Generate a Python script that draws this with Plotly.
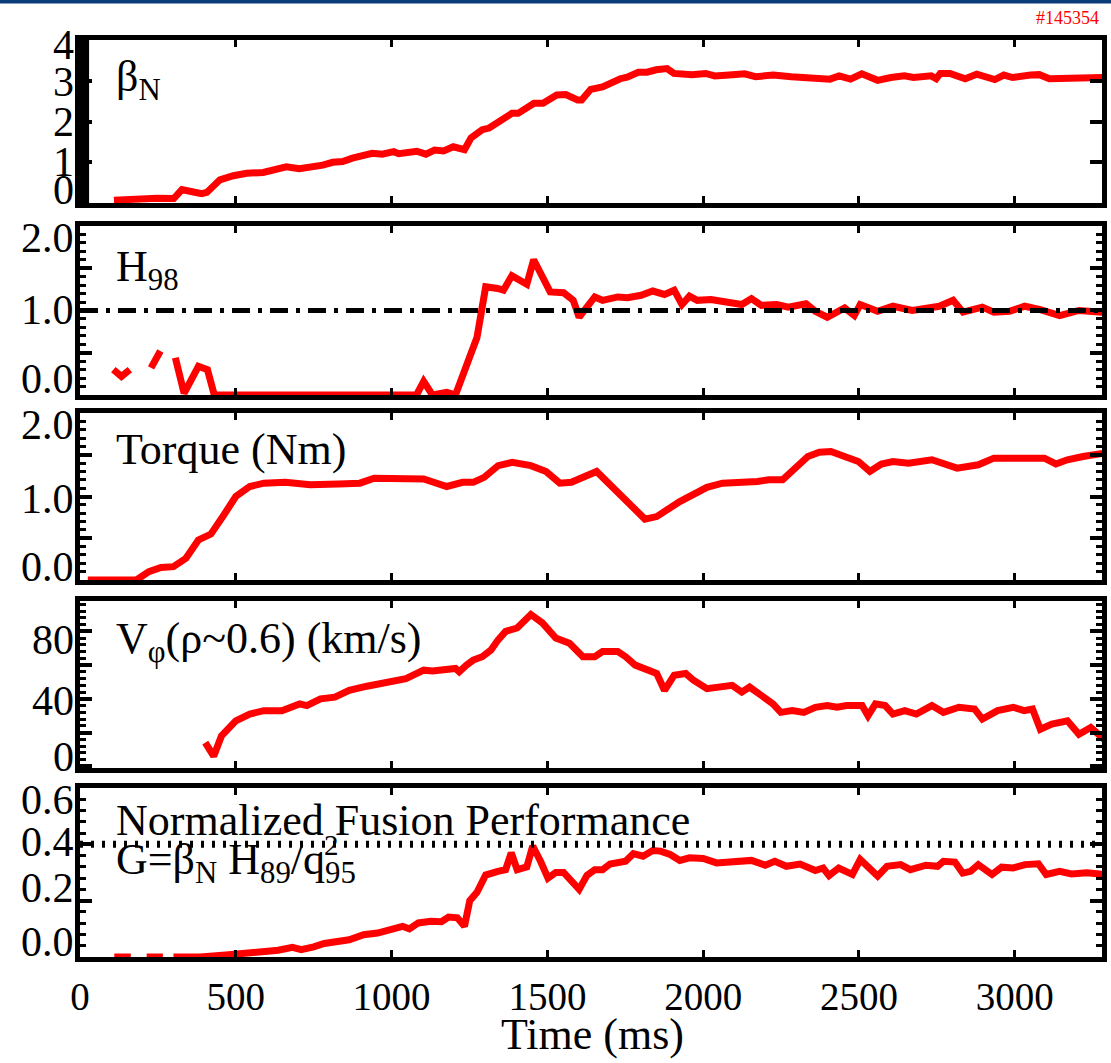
import plotly.graph_objects as go

# ---------------- data (time in ms) ----------------
t_betan = [109, 173, 248, 301, 327, 364, 391, 407, 449, 492, 535, 588, 619, 662, 704, 747, 779, 811, 843,
           874, 906, 938, 970, 1007, 1023, 1081, 1110, 1138, 1167, 1198, 1234, 1255, 1291, 1313, 1386, 1406,
           1457, 1486, 1530, 1559, 1597, 1610, 1639, 1677, 1734, 1756, 1792, 1820, 1849, 1884, 1906, 1964,
           2008, 2037, 2094, 2133, 2168, 2225, 2283, 2327, 2407, 2436, 2473, 2509, 2560, 2602, 2646, 2675,
           2732, 2748, 2761, 2792, 2841, 2878, 2936, 2965, 2993, 3051, 3079, 3111, 3169, 3226, 3284]
betan = [0.07, 0.10, 0.12, 0.11, 0.33, 0.27, 0.23, 0.26, 0.57, 0.67, 0.73, 0.75, 0.81, 0.89, 0.84, 0.88, 0.93,
         1.00, 1.02, 1.10, 1.14, 1.22, 1.20, 1.26, 1.21, 1.27, 1.20, 1.30, 1.28, 1.38, 1.31, 1.60, 1.80, 1.84,
         2.20, 2.20, 2.45, 2.45, 2.65, 2.66, 2.53, 2.53, 2.79, 2.85, 3.05, 3.09, 3.21, 3.21, 3.27, 3.30, 3.18,
         3.15, 3.18, 3.12, 3.15, 3.17, 3.10, 3.14, 3.10, 3.08, 3.04, 3.12, 3.04, 3.17, 3.01, 3.08, 3.12, 3.08,
         3.12, 3.05, 3.18, 3.18, 3.05, 3.16, 3.03, 3.14, 3.08, 3.14, 3.15, 3.05, 3.05, 3.08, 3.08]

# None marks gaps in the H98 record
t_h98 = [107, 133, 160, None, 228, 258, None, 306, 334, 380, 409, 431, 1080, 1103, 1131, 1177, 1205, 1274,
         1302, 1340, 1359, 1386, 1434, 1456, 1509, 1552, 1583, 1602, 1652, 1677, 1726, 1757, 1801, 1838,
         1876, 1907, 1932, 1956, 1981, 2025, 2062, 2124, 2155, 2187, 2236, 2273, 2330, 2360, 2398, 2454,
         2485, 2504, 2560, 2609, 2671, 2721, 2758, 2802, 2834, 2896, 2933, 2983, 3032, 3082, 3144, 3206, 3281]
h98 = [0.30, 0.22, 0.30, None, 0.32, 0.52, None, 0.44, 0.02, 0.34, 0.30, 0.0, 0.0, 0.16, 0.0, 0.03, 0.0, 0.68,
       1.28, 1.26, 1.24, 1.41, 1.31, 1.60, 1.22, 1.21, 1.12, 0.92, 1.16, 1.12, 1.16, 1.15, 1.18, 1.23,
       1.19, 1.24, 1.07, 1.17, 1.12, 1.13, 1.10, 1.07, 1.14, 1.06, 1.07, 1.04, 1.08, 0.99, 0.92, 1.03,
       0.94, 1.07, 0.99, 1.05, 1.00, 1.03, 1.05, 1.12, 0.98, 1.04, 0.98, 0.99, 1.05, 1.01, 0.94, 1.00, 0.98]

t_torque = [25, 181, 221, 260, 300, 340, 380, 420, 460, 500, 545, 590, 659, 739, 830, 898, 944, 1058, 1103,
            1177, 1228, 1262, 1297, 1342, 1387, 1447, 1496, 1540, 1577, 1658, 1733, 1813, 1851, 1925, 2012,
            2062, 2174, 2211, 2255, 2292, 2336, 2373, 2410, 2498, 2535, 2572, 2609, 2659, 2734, 2815, 2883,
            2933, 2995, 3057, 3095, 3132, 3169, 3219, 3287]
torque = [0.0, 0.0, 0.10, 0.15, 0.16, 0.26, 0.48, 0.55, 0.77, 1.00, 1.12, 1.16, 1.17, 1.14, 1.15, 1.16, 1.22,
          1.21, 1.21, 1.12, 1.17, 1.17, 1.23, 1.37, 1.41, 1.37, 1.30, 1.16, 1.17, 1.30, 1.02, 0.73, 0.76,
          0.94, 1.11, 1.16, 1.18, 1.20, 1.20, 1.32, 1.48, 1.53, 1.54, 1.42, 1.30, 1.39, 1.42, 1.40, 1.44,
          1.34, 1.38, 1.46, 1.46, 1.47, 1.46, 1.39, 1.44, 1.48, 1.52]

t_vphi = [402, 429, 454, 500, 545, 590, 648, 705, 728, 772, 818, 864, 921, 978, 1046, 1103, 1131, 1205, 1217,
          1240, 1262, 1291, 1319, 1342, 1366, 1403, 1447, 1484, 1527, 1571, 1614, 1652, 1677, 1726, 1751,
          1782, 1815, 1851, 1876, 1907, 1944, 1969, 2012, 2062, 2093, 2124, 2149, 2187, 2224, 2249, 2286,
          2323, 2360, 2398, 2430, 2460, 2510, 2529, 2553, 2584, 2609, 2647, 2684, 2734, 2771, 2821, 2871,
          2896, 2945, 2995, 3030, 3057, 3082, 3119, 3169, 3206, 3244, 3287]
vphi = [14, 6, 18, 27, 31, 33, 33, 37, 36, 40, 41, 45, 47.5, 50, 52, 57, 56.5, 58, 56,
        60, 63, 65, 69, 75, 80, 82, 90, 85, 76, 73, 65, 65, 68, 68, 65,
        60, 58, 55, 45, 54, 55, 51, 46, 47, 48, 44, 47, 42, 37, 32, 33,
        32, 35, 36, 35, 36, 36, 30, 37, 36, 31, 33, 31, 36, 32, 35, 34,
        28, 33, 35, 33, 34, 22, 25, 27, 19, 23, 16]

t_g = [110, 163, None, 214, 266, None, 300, 386, 477, 568, 636, 682, 710, 750, 784, 864, 910, 955, 1001, 1035,
       1057, 1086, 1126, 1160, 1183, 1211, 1234, 1251, 1274, 1302, 1341, 1366, 1384, 1403, 1434, 1453, 1478,
       1502, 1527, 1552, 1602, 1627, 1652, 1677, 1701, 1751, 1776, 1807, 1838, 1863, 1894, 1925, 1956, 2000,
       2043, 2087, 2155, 2199, 2230, 2267, 2311, 2360, 2385, 2404, 2435, 2479, 2504, 2560, 2590, 2634, 2665,
       2715, 2752, 2771, 2808, 2833, 2858, 2883, 2927, 2958, 2995, 3033, 3076, 3101, 3144, 3182, 3231, 3287]
g_perf = [0.0, 0.0, None, 0.0, 0.0, None, 0.0, 0.0, 0.008, 0.016, 0.024, 0.034, 0.026, 0.036, 0.048, 0.061,
          0.079, 0.085, 0.097, 0.109, 0.100, 0.121, 0.127, 0.125, 0.142, 0.139, 0.109, 0.200, 0.230, 0.291,
          0.304, 0.310, 0.370, 0.310, 0.320, 0.394, 0.340, 0.280, 0.300, 0.300, 0.240, 0.290, 0.310, 0.310,
          0.330, 0.340, 0.367, 0.358, 0.378, 0.376, 0.364, 0.343, 0.352, 0.350, 0.334, 0.338, 0.343, 0.326,
          0.340, 0.322, 0.330, 0.307, 0.316, 0.289, 0.316, 0.293, 0.346, 0.287, 0.322, 0.328, 0.310, 0.326,
          0.322, 0.340, 0.337, 0.298, 0.304, 0.328, 0.293, 0.319, 0.316, 0.328, 0.331, 0.293, 0.304, 0.295,
          0.299, 0.293]

# reference levels
h98_ref = 1.0
g_ref = 0.4

# y tick labels per panel: (values, texts)
ylab_betan = ([0, 1, 2, 3, 4], ["0", "1", "2", "3", "4"])
ylab_h98 = ([0.0, 1.0, 2.0], ["0.0", "1.0", "2.0"])
ylab_torque = ([0.0, 1.0, 2.0], ["0.0", "1.0", "2.0"])
ylab_vphi = ([0, 40, 80], ["0", "40", "80"])
ylab_g = ([0.0, 0.2, 0.4, 0.6], ["0.0", "0.2", "0.4", "0.6"])

x_ticks = [0, 500, 1000, 1500, 2000, 2500, 3000]

# ---------------- styling ----------------
SERIF = "Liberation Serif, Times New Roman, Times, serif"
RED = "#ff0000"
LINE_W = 7
YTICK_FONT = 42
XTICK_FONT = 39
LABEL_FONT = 44
T_MAX = 3280

panels = [
    dict(t=t_betan, v=betan, rng=[0, 4], dmaj=1, dmin=None, dom=[0.8222, 1.0],
         labs=ylab_betan, shifts=[13, 0, 0, -1, -5]),
    dict(t=t_h98, v=h98, rng=[0, 2.0], dmaj=0.5, dmin=0.1, dom=[0.6129, 0.7972],
         labs=ylab_h98, shifts=[16, 0, -12]),
    dict(t=t_torque, v=torque, rng=[0, 2.0], dmaj=0.5, dmin=0.1, dom=[0.4111, 0.5932],
         labs=ylab_torque, shifts=[13, -2, -12]),
    dict(t=t_vphi, v=vphi, rng=[-1, 98], dmaj=20, dmin=4, dom=[0.2061, 0.3882],
         labs=ylab_vphi, shifts=[9, -2, -9]),
    dict(t=t_g, v=g_perf, rng=[0, 0.6], dmaj=0.2, dmin=0.04, dom=[0.0, 0.1843],
         labs=ylab_g, shifts=[15, 13, 2, -12]),
]

fig = go.Figure()
annotations = []
shapes = []

for i, p in enumerate(panels, start=1):
    sfx = "" if i == 1 else str(i)
    fig.add_trace(go.Scatter(
        x=p["t"], y=p["v"], mode="lines", connectgaps=False,
        line=dict(color=RED, width=LINE_W),
        xaxis="x" + sfx, yaxis="y" + sfx, showlegend=False, hoverinfo="skip",
    ))

    xa = dict(
        domain=[0, 1], anchor="y" + sfx, range=[0, T_MAX],
        showline=True, linewidth=5, linecolor="black", mirror="ticks",
        ticks="inside", ticklen=7, tickwidth=3, tickcolor="black",
        tickvals=x_ticks, showgrid=False, zeroline=False,
        showticklabels=(i == 5),
        tickfont=dict(family=SERIF, size=XTICK_FONT, color="black"),
    )
    if i != 1:
        xa["matches"] = "x"
    if i == 5:
        xa["ticklabelstandoff"] = 1
    ya = dict(
        domain=p["dom"], anchor="x" + sfx, range=p["rng"],
        showline=True, linewidth=5, linecolor="black", mirror="ticks",
        ticks="inside", ticklen=12, tickwidth=4, tickcolor="black",
        dtick=p["dmaj"], tick0=0, showgrid=False, zeroline=False, showticklabels=False,
    )
    if p["dmin"]:
        ya["minor"] = dict(ticks="inside", ticklen=6, tickwidth=3, tickcolor="black",
                           dtick=p["dmin"], tick0=0, showgrid=False)
    fig.update_layout({"xaxis" + sfx: xa, "yaxis" + sfx: ya})

    # y tick labels
    for val, txt, sh in zip(p["labs"][0], p["labs"][1], p["shifts"]):
        annotations.append(dict(
            xref="paper", x=0, xanchor="right", xshift=-4,
            yref="y" + sfx, y=val, yanchor="middle", yshift=sh,
            text=txt, showarrow=False,
            font=dict(family=SERIF, size=YTICK_FONT, color="black"),
        ))

# reference lines drawn over the curves
shapes.append(dict(type="line", xref="x2 domain", x0=0, x1=1, yref="y2", y0=h98_ref, y1=h98_ref,
                   line=dict(color="black", width=5, dash="18px,8px,4px,8px"), layer="above"))
shapes.append(dict(type="line", xref="x5 domain", x0=0, x1=1, yref="y5", y0=g_ref, y1=g_ref,
                   line=dict(color="black", width=7, dash="3px,8px"), layer="above"))
# heavy left spine on the top panel
shapes.append(dict(type="line", xref="x domain", x0=0.004, x1=0.004, yref="y domain", y0=-0.02, y1=1.02,
                   line=dict(color="black", width=10), layer="above"))
# banner strip along the top edge
shapes.append(dict(type="rect", xref="paper", yref="paper", x0=-0.1, x1=1.1,
                   y0=1 + 36.5 / 917, y1=1 + 41 / 917, fillcolor="#0b3c78", line=dict(width=0)))

# panel labels
def panel_label(text, xpix, yref, yfrac, size=LABEL_FONT):
    return dict(xref="paper", x=(xpix - 80) / 1027, xanchor="left",
                yref=yref, y=yfrac, yanchor="middle", text=text, showarrow=False,
                font=dict(family=SERIF, size=size, color="black"))

annotations += [
    panel_label("β<sub>N</sub>", 114, "y domain", 0.76),
    panel_label("H<sub>98</sub>", 114, "y2 domain", 0.74),
    panel_label("Torque (Nm)", 114, "y3 domain", 0.78),
    panel_label("V<sub>φ</sub>(ρ~0.6) (km/s)", 114, "y4 domain", 0.76),
    panel_label("Normalized Fusion Performance", 114, "y5 domain", 0.81),
    panel_label("G=β<sub>N</sub> H<sub>89</sub>/q<sub>95</sub>", 114, "y5 domain", 0.56),
    panel_label("2", 323, "y5 domain", 0.665, size=29),
]

# x-axis title
annotations.append(dict(xref="paper", x=0.5015, xanchor="center",
                        yref="paper", y=-(1034 - 957) / 917, yanchor="middle",
                        text="Time (ms)", showarrow=False,
                        font=dict(family=SERIF, size=LABEL_FONT, color="black")))

# shot number
annotations.append(dict(xref="paper", x=(1106 - 80) / 1027, xanchor="right",
                        yref="paper", y=1 + (40 - 18) / 917, yanchor="middle",
                        text="#145354", showarrow=False,
                        font=dict(family=SERIF, size=18, color=RED)))

fig.update_layout(
    width=1111, height=1063,
    margin=dict(l=80, r=4, t=40, b=106),
    paper_bgcolor="white", plot_bgcolor="white",
    showlegend=False,
    annotations=annotations, shapes=shapes,
    font=dict(family=SERIF, color="black"),
)

fig.write_html("out.html")
